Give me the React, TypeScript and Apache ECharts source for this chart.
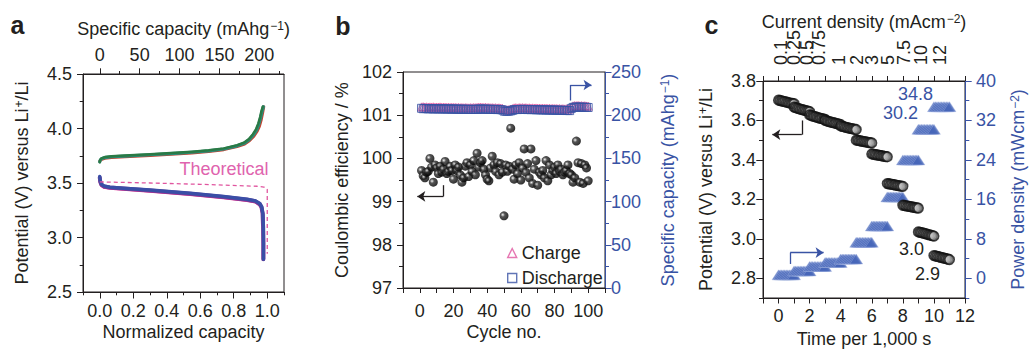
import { useEffect, useRef } from "react";
import * as echarts from "echarts";

const INK = "#231f20";
const BLUE = "#3953a4";
const PINK = "#e0559f";
const FONT = "Liberation Sans";

// ---------- Panel a : voltage profiles ----------
const chargeRed = [[0, 3.7], [0.004, 3.708], [0.012, 3.717], [0.03, 3.727], [0.07, 3.734], [0.15, 3.741], [0.3, 3.753], [0.45, 3.766], [0.55, 3.776], [0.65, 3.789], [0.74, 3.806], [0.82, 3.834], [0.865, 3.858], [0.895, 3.89], [0.92, 3.93], [0.94, 3.975], [0.953, 4.02], [0.964, 4.08], [0.972, 4.14], [0.979, 4.2]];
const chargeTeal = [[0, 3.695], [0.003, 3.71], [0.01, 3.722], [0.03, 3.733], [0.07, 3.741], [0.15, 3.747], [0.3, 3.759], [0.45, 3.772], [0.55, 3.782], [0.65, 3.795], [0.74, 3.812], [0.82, 3.841], [0.862, 3.864], [0.892, 3.897], [0.917, 3.94], [0.936, 3.985], [0.949, 4.035], [0.96, 4.095], [0.968, 4.15], [0.977, 4.2]];
const chargeGreen = [[0, 3.69], [0.003, 3.714], [0.01, 3.727], [0.03, 3.738], [0.07, 3.746], [0.15, 3.752], [0.3, 3.764], [0.45, 3.777], [0.55, 3.787], [0.65, 3.8], [0.74, 3.818], [0.82, 3.847], [0.86, 3.87], [0.89, 3.903], [0.914, 3.948], [0.933, 3.995], [0.946, 4.045], [0.957, 4.105], [0.965, 4.16], [0.973, 4.2]];

const dischargeMagenta = [[0, 3.545], [0.003, 3.505], [0.01, 3.478], [0.025, 3.462], [0.06, 3.452], [0.14, 3.443], [0.3, 3.426], [0.54, 3.396], [0.74, 3.366], [0.88, 3.341], [0.93, 3.326], [0.955, 3.3], [0.967, 3.268], [0.974, 3.21], [0.977, 3.1], [0.978, 2.95], [0.978, 2.8]];
const dischargePurple = [[0, 3.55], [0.003, 3.512], [0.01, 3.485], [0.025, 3.468], [0.06, 3.458], [0.14, 3.449], [0.3, 3.432], [0.54, 3.402], [0.74, 3.372], [0.88, 3.347], [0.93, 3.332], [0.955, 3.307], [0.966, 3.276], [0.972, 3.22], [0.975, 3.1], [0.976, 2.95], [0.976, 2.8]];
const dischargeBlue = [[0, 3.56], [0.003, 3.52], [0.01, 3.49], [0.025, 3.473], [0.06, 3.461], [0.14, 3.452], [0.3, 3.436], [0.54, 3.406], [0.74, 3.376], [0.88, 3.351], [0.93, 3.336], [0.955, 3.312], [0.967, 3.282], [0.974, 3.22], [0.977, 3.1], [0.978, 2.95], [0.978, 2.8]];

const theoretical = [[0, 3.51], [0.3, 3.5], [0.6, 3.488], [0.94, 3.47], [0.98, 3.462], [0.995, 3.452], [1.0, 3.44], [1.0, 2.85]];

const aBottomMajor = [0, 0.2, 0.4, 0.6, 0.8, 1.0];
const aBottomMinor = [-0.1, 0.1, 0.3, 0.5, 0.7, 0.9, 1.1];
const aTopMajor = [0, 50, 100, 150, 200];
const aTopMinor = [25, 75, 125, 175, 225];

// ---------- Panel b : cycling ----------
const ceValues = [
  99.72, 99.6, 99.55, 99.68, 99.7, 100.0, 99.8, 99.45, 99.85, 99.78,
  99.65, 99.82, 99.68, 99.75, 99.93, 99.65, 99.7, 99.82, 99.72, 99.52,
  99.85, 99.72, 99.8, 99.62, 99.45, 99.55, 99.82, 99.9, 99.58, 99.85,
  99.7, 99.95, 99.62, 100.12, 99.8, 99.9, 99.95, 99.75, 99.62, 99.52,
  99.48, 99.78, 100.05, 99.85, 99.7, 99.9, 99.62, 99.88, 99.68, 98.67,
  99.85, 99.7, 99.82, 100.7, 99.75, 99.52, 99.85, 99.65, 99.9, 99.5,
  99.78, 100.22, 99.68, 99.88, 99.55, 100.22, 99.42, 99.75, 99.95, 99.38,
  99.68, 99.62, 99.72, 99.55, 99.95, 99.48, 99.85, 99.62, 99.72, 99.8,
  99.65, 99.85, 99.7, 99.75, 99.62, 99.68, 99.72, 99.85, 99.65, 99.62,
  99.45, 99.55, 100.4, 99.9, 99.45, 99.88, 99.42, 99.85, 99.78, 99.48,
];
const chargeCapacity = [
  209.6, 209.8, 209.5, 209.7, 209.4, 209.6, 209.5, 209.7, 209.3, 209.5,
  209.4, 209.6, 209.2, 209.4, 209.3, 209.1, 209.3, 209.0, 209.2, 208.9,
  209.1, 208.8, 209.0, 208.7, 208.9, 208.6, 208.8, 208.7, 208.5, 208.8,
  208.6, 208.9, 208.7, 209.0, 209.2, 209.4, 209.1, 208.9, 209.2, 208.8,
  208.9, 208.6, 208.8, 208.5, 208.7, 208.4, 208.6, 208.3, 208.0, 206.5,
  206.3, 206.2, 206.6, 206.9, 207.6, 208.5, 208.7, 208.4, 208.8, 208.6,
  208.8, 208.5, 208.7, 208.4, 208.6, 208.3, 208.5, 208.2, 208.4, 208.1,
  208.3, 208.0, 208.2, 207.9, 208.1, 207.8, 208.0, 207.7, 207.9, 207.6,
  207.8, 207.5, 207.7, 207.4, 207.6, 207.3, 207.5, 207.2, 207.4, 209.6,
  210.8, 211.2, 211.0, 211.3, 210.9, 211.1, 210.8, 211.0, 210.7, 210.5,
];
const dischargeCapacity = [
  208.0, 207.5, 207.8, 207.6, 207.4, 207.6, 207.5, 207.3, 207.5, 207.4,
  207.3, 207.5, 207.2, 207.4, 207.3, 207.1, 207.3, 207.2, 207.0, 207.2,
  207.1, 206.9, 207.0, 206.8, 207.0, 206.9, 206.7, 206.9, 206.8, 206.6,
  206.8, 206.7, 206.9, 206.8, 207.0, 207.2, 207.0, 206.9, 207.1, 206.8,
  206.9, 206.7, 206.8, 206.6, 206.8, 206.5, 206.7, 206.4, 206.2, 204.8,
  204.6, 204.5, 204.8, 205.0, 205.6, 206.4, 206.6, 206.5, 206.7, 206.6,
  206.8, 206.6, 206.7, 206.5, 206.6, 206.4, 206.6, 206.5, 206.3, 206.4,
  206.2, 206.4, 206.1, 206.3, 206.0, 206.2, 205.9, 206.1, 205.8, 206.0,
  205.7, 205.9, 205.6, 205.8, 205.5, 205.7, 205.4, 205.6, 205.3, 207.8,
  209.0, 209.3, 209.5, 209.2, 209.4, 209.1, 209.3, 209.0, 209.2, 208.9,
];
const ceArrow = [[14, 99.38], [14, 99.12], [-1.5, 99.12]];
const capArrow = [[89.5, 217], [89.5, 235], [102, 235]];

// ---------- Panel c : rate test ----------
const cStepStart = [0, 1, 2, 3, 4, 5, 6, 7, 8, 9, 10];
const cSampleOffsets = [0, 0.1, 0.2, 0.3, 0.4, 0.5, 0.6, 0.7, 0.8, 0.9, 1.0];
const cVoltage = [
  [3.703, 3.701, 3.699, 3.697, 3.695, 3.693, 3.691, 3.689, 3.687, 3.686, 3.685],
  [3.668, 3.665, 3.662, 3.66, 3.657, 3.655, 3.653, 3.651, 3.649, 3.647, 3.645],
  [3.628, 3.625, 3.622, 3.62, 3.618, 3.615, 3.613, 3.611, 3.609, 3.607, 3.605],
  [3.6, 3.598, 3.595, 3.593, 3.591, 3.589, 3.587, 3.585, 3.583, 3.581, 3.579],
  [3.572, 3.57, 3.568, 3.566, 3.564, 3.562, 3.56, 3.559, 3.557, 3.555, 3.554],
  [3.5, 3.499, 3.497, 3.496, 3.494, 3.493, 3.491, 3.49, 3.488, 3.487, 3.486],
  [3.43, 3.429, 3.427, 3.426, 3.424, 3.423, 3.421, 3.42, 3.418, 3.417, 3.416],
  [3.28, 3.279, 3.277, 3.276, 3.274, 3.273, 3.271, 3.27, 3.268, 3.267, 3.266],
  [3.17, 3.169, 3.167, 3.166, 3.164, 3.163, 3.161, 3.16, 3.158, 3.157, 3.156],
  [3.035, 3.033, 3.031, 3.029, 3.027, 3.025, 3.022, 3.02, 3.018, 3.016, 3.014],
  [2.915, 2.913, 2.911, 2.909, 2.907, 2.905, 2.903, 2.901, 2.899, 2.897, 2.895],
];
const cPower = [0.7, 1.5, 2.4, 3.2, 3.9, 7.3, 10.6, 16.5, 24.0, 30.2, 34.8];
const cCurrentLabels = ["0.1", "0.25", "0.5", "0.75", "1", "2", "3", "5", "7.5", "10", "12"];
const cCurrentPos = [0.15, 1.0, 1.8, 2.6, 3.9, 5.05, 6.0, 7.05, 8.05, 9.2, 10.4];
const cTopTicks = [-1, 0, 1, 2, 3, 4, 5, 6, 7, 8, 9, 10, 11, 12];
const cLeftMajor = [2.8, 3.0, 3.2, 3.4, 3.6, 3.8];
const cLeftMinor = [2.7, 2.9, 3.1, 3.3, 3.5, 3.7];
const cRightMajor = [0, 8, 16, 24, 32, 40];
const cRightMinor = [-4, 4, 12, 20, 28, 36];
const vArrow = [[1.5, 3.6], [1.5, 3.528], [-0.4, 3.528]];
const pArrow = [[0.75, 2.9], [0.75, 5.2], [2.9, 5.2]];

const rich = (color: string) => ({
  t: { fontSize: 18, fontFamily: FONT, color },
  s: { fontSize: 12, fontFamily: FONT, color, verticalAlign: "top" as const, padding: [0, 0, 0, 1] },
});

function axis(grid: number, position: string, min: number, max: number, color = INK): any {
  return {
    type: "value",
    gridIndex: grid,
    position,
    min,
    max,
    splitLine: { show: false },
    axisLine: { show: true, onZero: false, lineStyle: { color, width: 1 } },
    axisTick: { show: true, inside: false, length: 6, lineStyle: { color, width: 1 } },
    axisLabel: { show: true, color, fontSize: 18, fontFamily: FONT },
    nameTextStyle: { rich: rich(color) },
    nameMoveOverlap: false,
  };
}
function minorAxis(grid: number, position: string, min: number, max: number, values: number[], length: number, color = INK): any {
  return {
    type: "value",
    gridIndex: grid,
    position,
    min,
    max,
    splitLine: { show: false },
    axisLine: { show: false, onZero: false },
    axisTick: { show: true, inside: false, length, customValues: values, lineStyle: { color, width: 1 } },
    axisLabel: { show: false },
  };
}
function arrowMark(pts: number[][], color: string) {
  return {
    silent: true,
    symbolSize: 8,
    lineStyle: { color, width: 1.3, type: "solid" },
    label: { show: false },
    emphasis: { disabled: true },
    data: [
      [{ coord: pts[0], symbol: "none" }, { coord: pts[1], symbol: "none" }],
      [{ coord: pts[1], symbol: "none" }, { coord: pts[2], symbol: "arrow" }],
    ],
  };
}

export default function App() {
  const ref = useRef<HTMLDivElement>(null);
  useEffect(() => {
    if (!ref.current) return;
    const chart = echarts.init(ref.current, undefined, { renderer: "svg" });

    const ringData = cVoltage.flatMap((row, k) => row.map((v, i) => [cStepStart[k] + cSampleOffsets[i], v]));
    const powerData = cPower.flatMap((p, k) => cSampleOffsets.map((o) => [cStepStart[k] + o, p]));
    const ceData = ceValues.map((v, i) => [i + 1, v]);
    const chData = chargeCapacity.map((v, i) => [i + 1, v]);
    const dcData = dischargeCapacity.map((v, i) => [i + 1, v]);

    const sphere = {
      type: "radial", x: 0.36, y: 0.38, r: 0.62,
      colorStops: [
        { offset: 0, color: "#ffffff" },
        { offset: 0.14, color: "#a8a8a8" },
        { offset: 0.38, color: "#2a2a2a" },
        { offset: 1, color: "#000000" },
      ],
    };

    const grid = (left: number, top: number, width: number, height: number) => ({
      left, top, width, height, show: true, borderColor: INK, borderWidth: 1,
      backgroundColor: "transparent", containLabel: false, outerBoundsMode: "none",
    });

    const xAxis: any[] = [
      // 0 a bottom
      {
        ...axis(0, "bottom", -0.1, 1.1),
        axisTick: { show: true, length: 6.5, customValues: aBottomMajor, lineStyle: { color: INK } },
        axisLabel: { show: true, customValues: aBottomMajor, color: INK, fontSize: 18, fontFamily: FONT, margin: 10, formatter: (v: number) => v.toFixed(1) },
        name: "Normalized capacity", nameLocation: "middle", nameGap: 31,
        nameTextStyle: { fontSize: 18, fontFamily: FONT, color: INK },
      },
      // 1 a bottom minor
      minorAxis(0, "bottom", -0.1, 1.1, aBottomMinor, 3.3),
      // 2 a top
      {
        ...axis(0, "top", -21, 231),
        axisTick: { show: true, length: 5.7, customValues: aTopMajor, lineStyle: { color: INK } },
        axisLabel: { show: true, customValues: aTopMajor, color: INK, fontSize: 18, fontFamily: FONT, margin: 10 },
        name: "{t|Specific capacity (mAhg}{s|−1}{t|)}", nameLocation: "middle", nameGap: 36,
      },
      // 3 a top minor
      minorAxis(0, "top", -21, 231, aTopMinor, 3),
      // 4 b bottom
      {
        ...axis(1, "bottom", -10, 110),
        interval: 10,
        axisTick: { show: true, length: 5, lineStyle: { color: INK } },
        axisLabel: {
          show: true, color: INK, fontSize: 18, fontFamily: FONT, margin: 14,
          formatter: (v: number) => (v >= 0 && v <= 100 && Math.round(v) % 20 === 0 ? String(Math.round(v)) : ""),
        },
        name: "Cycle no.", nameLocation: "middle", nameGap: 35,
        nameTextStyle: { fontSize: 18, fontFamily: FONT, color: INK },
      },
      // 5 c bottom
      {
        ...axis(2, "bottom", -1, 12),
        interval: 1,
        axisTick: { show: true, length: 5.5, lineStyle: { color: INK } },
        axisLabel: {
          show: true, color: INK, fontSize: 18, fontFamily: FONT, margin: 9,
          formatter: (v: number) => (v >= 0 && Math.round(v) % 2 === 0 ? String(Math.round(v)) : ""),
        },
        name: "Time per 1,000 s", nameLocation: "middle", nameGap: 32,
        nameTextStyle: { fontSize: 18, fontFamily: FONT, color: INK },
      },
      // 6 c top (labels are drawn as rotated texts at the axis' own pixel positions)
      {
        ...axis(2, "top", -1, 12),
        axisTick: { show: true, length: 5, customValues: cTopTicks, lineStyle: { color: INK } },
        axisLabel: { show: false },
        name: "{t|Current density (mAcm}{s|−2}{t|)}", nameLocation: "middle", nameGap: 50,
      },
    ];

    const yAxis: any[] = [
      // 0 a left
      {
        ...axis(0, "left", 2.5, 4.5),
        interval: 0.5,
        minorTick: { show: true, splitNumber: 2, length: 3.3, lineStyle: { color: INK } },
        axisLabel: { show: true, color: INK, fontSize: 18, fontFamily: FONT, margin: 11, formatter: (v: number) => v.toFixed(1) },
        name: "{t|Potential (V) versus Li}{s|+}{t|/Li}", nameLocation: "middle", nameRotate: 90, nameGap: 52,
      },
      // 1 b left
      {
        ...axis(1, "left", 97, 102),
        interval: 1,
        minorTick: { show: true, splitNumber: 2, length: 4, lineStyle: { color: INK } },
        axisLabel: { show: true, color: INK, fontSize: 18, fontFamily: FONT, margin: 11 },
        name: "Coulombic efficiency / %", nameLocation: "middle", nameRotate: 90, nameGap: 52,
        nameTextStyle: { fontSize: 18, fontFamily: FONT, color: INK },
      },
      // 2 b right
      {
        ...axis(1, "right", 0, 250, BLUE),
        interval: 50,
        axisTick: { show: true, length: 6.5, lineStyle: { color: BLUE } },
        minorTick: { show: true, splitNumber: 2, length: 4, lineStyle: { color: BLUE } },
        axisLabel: { show: true, color: BLUE, fontSize: 18, fontFamily: FONT, margin: 6 },
        name: "{t|Specific capacity (mAhg}{s|−1}{t|)}", nameLocation: "middle", nameRotate: 90, nameGap: 54,
      },
      // 3 c left
      {
        ...axis(2, "left", 2.7, 3.8),
        axisTick: { show: true, length: 6.7, customValues: cLeftMajor, lineStyle: { color: INK } },
        axisLabel: { show: true, customValues: cLeftMajor, color: INK, fontSize: 18, fontFamily: FONT, margin: 7, formatter: (v: number) => v.toFixed(1) },
        name: "{t|Potential (V) versus Li}{s|+}{t|/Li}", nameLocation: "middle", nameRotate: 90, nameGap: 48,
      },
      // 4 c left minor
      minorAxis(2, "left", 2.7, 3.8, cLeftMinor, 4),
      // 5 c right
      {
        ...axis(2, "right", -4, 40, BLUE),
        axisTick: { show: true, length: 6.7, customValues: cRightMajor, lineStyle: { color: BLUE } },
        axisLabel: { show: true, customValues: cRightMajor, color: BLUE, fontSize: 18, fontFamily: FONT, margin: 11 },
        name: "{t|Power density (mWcm}{s|−2}{t|)}", nameLocation: "middle", nameRotate: 90, nameGap: 44,
      },
      // 6 c right minor
      minorAxis(2, "right", -4, 40, cRightMinor, 4.3, BLUE),
    ];

    const lineS = (data: number[][], color: string, width: number, z: number) => ({
      type: "line", xAxisIndex: 0, yAxisIndex: 0, data, showSymbol: false, symbol: "none",
      lineStyle: { color, width, cap: "round", join: "round" }, z, silent: true,
    });

    const series: any[] = [
      lineS(chargeRed, "#c9412f", 3, 2),
      lineS(chargeTeal, "#2b8c7c", 3.2, 3),
      lineS(chargeGreen, "#2a7a45", 2.4, 4),
      lineS(dischargeMagenta, "#e3268a", 3.2, 2),
      lineS(dischargePurple, "#7a3c98", 4, 3),
      lineS(dischargeBlue, "#3a4ea6", 3.4, 4),
      {
        type: "line", xAxisIndex: 0, yAxisIndex: 0, data: theoretical, showSymbol: false, symbol: "none",
        lineStyle: { color: PINK, width: 1.3, type: [4, 3] }, z: 5, silent: true,
      },
      {
        name: "Charge", type: "scatter", xAxisIndex: 4, yAxisIndex: 2, data: chData, symbol: "triangle", symbolSize: 8,
        itemStyle: { color: "rgba(255,255,255,0)", borderColor: PINK, borderWidth: 1 }, z: 3, silent: true,
      },
      {
        name: "Discharge", type: "scatter", xAxisIndex: 4, yAxisIndex: 2, data: dcData, symbol: "rect", symbolSize: 8,
        itemStyle: { color: "rgba(255,255,255,0)", borderColor: BLUE, borderWidth: 1 }, z: 4, silent: true,
        markLine: arrowMark(capArrow, BLUE),
      },
      {
        name: "CE", type: "scatter", xAxisIndex: 4, yAxisIndex: 1, data: ceData, symbol: "circle", symbolSize: 9,
        itemStyle: { color: sphere }, z: 5, silent: true,
        markLine: arrowMark(ceArrow, INK),
      },
      {
        name: "Voltage", type: "scatter", xAxisIndex: 5, yAxisIndex: 3, data: ringData, symbol: "circle", symbolSize: 9.5,
        itemStyle: { color: "rgba(210,210,210,0.45)", borderColor: "#111111", borderWidth: 1.7 }, z: 4, silent: true,
        markLine: arrowMark(vArrow, INK),
      },
      {
        name: "Power", type: "scatter", xAxisIndex: 5, yAxisIndex: 5, data: powerData, symbol: "triangle", symbolSize: [13, 10],
        itemStyle: { color: "#4767b9", borderColor: "#a9b9e4", borderWidth: 0.5 }, z: 3, silent: true,
        markLine: arrowMark(pArrow, BLUE),
      },
    ];

    const txt = (text: string, x: number, y: number, fill: string, font = `18px "${FONT}"`) => ({
      type: "text", x, y, silent: true,
      style: { text, fill, font, textAlign: "center", textVerticalAlign: "middle" },
    });

    const baseGraphic: any[] = [
      txt("a", 17.5, 25, INK, `bold 25px "${FONT}"`),
      txt("b", 343, 26, INK, `bold 25px "${FONT}"`),
      txt("c", 711.5, 25, INK, `bold 25px "${FONT}"`),
      txt("Theoretical", 224, 169, "#e063ae"),
      txt("34.8", 915.5, 93.5, BLUE),
      txt("30.2", 900.5, 112.5, BLUE),
      txt("3.0", 911.5, 248.5, INK),
      txt("2.9", 927.5, 273.5, INK),
    ];

    chart.setOption({
      animation: false,
      backgroundColor: "#ffffff",
      textStyle: { fontFamily: FONT, fontSize: 18, color: INK },
      grid: [grid(83, 74, 201, 218), grid(403, 72, 202, 216), grid(763, 81, 202, 217)],
      xAxis,
      yAxis,
      legend: {
        show: true, orient: "vertical", left: 502, top: 239, itemWidth: 9, itemHeight: 9, itemGap: 7,
        selectedMode: false,
        textStyle: { fontSize: 18, fontFamily: FONT, color: INK },
        data: [
          { name: "Charge", icon: "triangle", itemStyle: { color: "#fff", borderColor: PINK, borderWidth: 1.4 } },
          { name: "Discharge", icon: "rect", itemStyle: { color: "#fff", borderColor: BLUE, borderWidth: 1.4 } },
        ],
      },
      series,
      graphic: baseGraphic,
    });

    // Top current-density labels of panel c, placed through the top axis' own scale.
    const axisTop = chart.convertToPixel({ yAxisIndex: 3 }, 3.8) as number;
    const topLabels = cCurrentPos.map((p, i) => ({
      type: "text",
      x: chart.convertToPixel({ xAxisIndex: 6 }, p) as number,
      y: axisTop - 16,
      rotation: Math.PI / 2,
      silent: true,
      style: { text: cCurrentLabels[i], fill: INK, font: `18px "${FONT}"`, textAlign: "left", textVerticalAlign: "middle" },
    }));
    chart.setOption({ graphic: [...baseGraphic, ...topLabels] });

    return () => chart.dispose();
  }, []);
  return <div ref={ref} style={{ position: "fixed", left: 0, top: 0, width: 1030, height: 349 }} />;
}
